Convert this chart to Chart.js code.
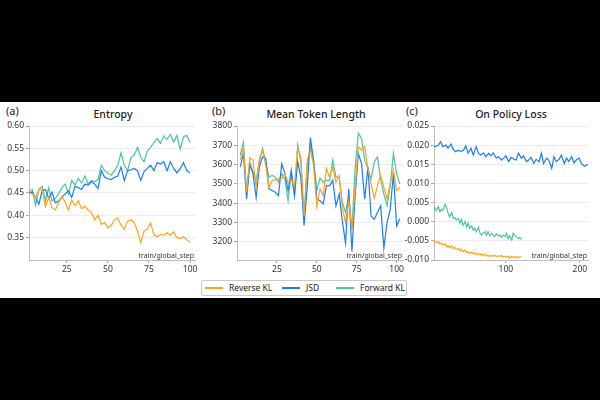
<!DOCTYPE html>
<html>
<head>
<meta charset="utf-8">
<script src="https://cdn.jsdelivr.net/npm/chart.js@4"></script>
<style>
  html, body { margin:0; padding:0; background:#000; }
  body { width:600px; height:400px; position:relative; overflow:hidden; font-family:"Noto Sans", sans-serif; }
  #band { position:absolute; left:0; top:102px; width:600px; height:196px; background:#fff; }
  canvas { position:absolute; }
  .lbl { position:absolute; font-size:11px; color:#222; line-height:14px; }
  .ttl { position:absolute; font-size:10.5px; color:#222; line-height:14px; text-align:center; width:160px; font-weight:500; }
  #legend { position:absolute; left:201px; top:280px; width:204px; height:14px; border:1px solid #c9c9c9; border-radius:2px; background:#fff; }
  .li { position:absolute; top:0; height:14px; font-size:8.5px; line-height:14px; color:#222; }
  .sw { position:absolute; top:6px; width:18px; height:2px; }
</style>
</head>
<body>
<div id="band"></div>
<div class="lbl" style="left:6px;top:104px;">(a)</div>
<div class="lbl" style="left:212px;top:104px;">(b)</div>
<div class="lbl" style="left:406px;top:104px;">(c)</div>
<div class="ttl" style="left:33px;top:107px;">Entropy</div>
<div class="ttl" style="left:236px;top:107px;">Mean Token Length</div>
<div class="ttl" style="left:431px;top:107px;">On Policy Loss</div>
<canvas id="ca" width="200" height="164" style="left:0;top:116px;"></canvas>
<canvas id="cb" width="205" height="164" style="left:205px;top:116px;"></canvas>
<canvas id="cc" width="200" height="164" style="left:400px;top:116px;"></canvas>
<div id="legend"></div>
<script>
// ---------- DATA ----------
const seriesNames = ["Reverse KL", "JSD", "Forward KL"];
const seriesColors = ["#ffa31a", "#1a7dff", "#4cc49f"];

// (a) Entropy
const entropySteps = [2,4,6,8,10,12,14,16,18,20,22,24,26,28,30,32,34,36,38,40,42,44,46,48,50,52,54,56,58,60,62,64,66,68,70,72,74,76,78,80,82,84,86,88,90,92,94,96,98,100];
const entropyReverseKL = [0.450,0.448,0.440,0.457,0.458,0.420,0.440,0.417,0.412,0.428,0.443,0.430,0.412,0.434,0.422,0.432,0.415,0.420,0.412,0.406,0.390,0.400,0.380,0.384,0.372,0.377,0.390,0.394,0.378,0.369,0.387,0.390,0.384,0.365,0.339,0.365,0.369,0.383,0.357,0.352,0.357,0.355,0.361,0.355,0.363,0.350,0.348,0.352,0.345,0.340];
const entropyJSD = [0.450,0.452,0.440,0.425,0.455,0.458,0.438,0.452,0.428,0.432,0.440,0.448,0.455,0.440,0.465,0.462,0.458,0.470,0.468,0.475,0.470,0.460,0.500,0.485,0.482,0.480,0.485,0.488,0.508,0.478,0.500,0.502,0.505,0.500,0.478,0.498,0.505,0.512,0.500,0.518,0.515,0.520,0.500,0.520,0.505,0.495,0.505,0.518,0.500,0.495];
const entropyForwardKL = [0.450,0.458,0.422,0.458,0.465,0.432,0.462,0.432,0.438,0.448,0.462,0.470,0.448,0.478,0.468,0.482,0.472,0.488,0.470,0.478,0.475,0.480,0.512,0.500,0.495,0.490,0.500,0.512,0.540,0.512,0.500,0.530,0.535,0.552,0.530,0.520,0.544,0.552,0.563,0.572,0.561,0.578,0.570,0.581,0.564,0.579,0.548,0.576,0.579,0.563];
const entropyYTicks = [0.35,0.40,0.45,0.50,0.55,0.60];
const entropyXTicks = [25,50,75,100];

// (b) Mean Token Length
const lengthSteps = [2,4,6,8,10,12,14,16,18,20,22,24,26,28,30,32,34,36,38,40,42,44,46,48,50,52,54,56,58,60,62,64,66,68,70,72,74,76,78,80,82,84,86,88,90,92,94,96,98,100,102];
const lengthReverseKL = [3623,3693,3456,3635,3623,3483,3632,3675,3597,3483,3518,3521,3526,3526,3553,3509,3518,3491,3684,3640,3333,3623,3675,3597,3383,3474,3439,3579,3535,3588,3509,3544,3377,3298,3412,3263,3483,3693,3675,3693,3579,3500,3425,3491,3544,3483,3421,3500,3570,3465,3483];
const lengthJSD = [3588,3658,3421,3597,3553,3430,3588,3640,3632,3474,3465,3456,3439,3605,3553,3465,3570,3439,3614,3535,3284,3483,3740,3614,3421,3412,3395,3491,3491,3518,3386,3447,3307,3193,3474,3149,3439,3658,3605,3421,3588,3333,3316,3351,3386,3167,3298,3369,3553,3281,3319];
const lengthForwardKL = [3649,3716,3465,3614,3561,3518,3614,3684,3614,3535,3544,3535,3509,3553,3526,3412,3553,3439,3702,3614,3307,3597,3702,3623,3465,3530,3509,3518,3518,3623,3535,3535,3404,3351,3439,3263,3579,3763,3737,3623,3579,3526,3614,3640,3526,3447,3386,3491,3658,3553,3500];
const lengthYTicks = [3200,3300,3400,3500,3600,3700,3800];
const lengthXTicks = [25,50,75,100];

// (c) On Policy Loss
const lossStepsJSD = [2,5,9,12,15,19,22,26,29,32,36,39,43,46,49,53,56,60,63,66,70,73,77,80,83,87,90,94,97,100,104,107,111,114,117,121,124,128,131,134,138,141,145,148,151,155,158,162,165,168,172,175,179,182,185,189,192,196,199,202,206,209,211];
const lossJSD = [0.0198,0.0196,0.0200,0.0209,0.0196,0.0200,0.0192,0.0203,0.0189,0.0183,0.0187,0.0183,0.0187,0.0198,0.0179,0.0192,0.0174,0.0196,0.0179,0.0174,0.0180,0.0170,0.0179,0.0172,0.0180,0.0166,0.0170,0.0161,0.0166,0.0172,0.0157,0.0168,0.0163,0.0161,0.0179,0.0166,0.0172,0.0157,0.0161,0.0168,0.0152,0.0163,0.0157,0.0179,0.0152,0.0166,0.0161,0.0139,0.0170,0.0157,0.0163,0.0174,0.0152,0.0166,0.0157,0.0170,0.0154,0.0163,0.0166,0.0152,0.0145,0.0148,0.0149];
const lossStepsKL = [2,4,6,9,11,13,15,18,20,22,24,27,29,31,33,36,38,40,42,45,47,49,51,54,56,58,60,63,65,67,69,72,74,76,78,81,83,85,87,90,92,94,96,99,101,103,105,108,110,112,114,117,119,121];
const lossReverseKL = [-0.0052,-0.0050,-0.0055,-0.0052,-0.0058,-0.0055,-0.0061,-0.0058,-0.0065,-0.0063,-0.0067,-0.0063,-0.0070,-0.0067,-0.0072,-0.0070,-0.0076,-0.0072,-0.0078,-0.0074,-0.0081,-0.0078,-0.0083,-0.0079,-0.0084,-0.0081,-0.0086,-0.0083,-0.0087,-0.0084,-0.0088,-0.0085,-0.0090,-0.0087,-0.0091,-0.0088,-0.0090,-0.0087,-0.0091,-0.0089,-0.0091,-0.0088,-0.0092,-0.0090,-0.0093,-0.0090,-0.0095,-0.0091,-0.0093,-0.0091,-0.0094,-0.0091,-0.0093,-0.0091];
const lossForwardKL = [0.0026,0.0037,0.0030,0.0039,0.0026,0.0032,0.0029,0.0045,0.0038,0.0022,0.0013,0.0024,0.0009,0.0011,0.0004,0.0009,-0.0004,0.0006,-0.0009,0.0000,-0.0013,-0.0004,-0.0017,-0.0011,-0.0022,-0.0017,-0.0026,-0.0015,-0.0029,-0.0035,-0.0030,-0.0026,-0.0035,-0.0026,-0.0037,-0.0030,-0.0035,-0.0039,-0.0032,-0.0037,-0.0035,-0.0041,-0.0035,-0.0039,-0.0030,-0.0044,-0.0037,-0.0048,-0.0030,-0.0035,-0.0039,-0.0044,-0.0041,-0.0046];
const lossYTicks = [-0.010,-0.005,0.000,0.005,0.010,0.015,0.020,0.025];
const lossXTicks = [100,200];

const xAxisLabel = "train/global_step";

// ---------- RENDER ----------
const pts = (xs, ys) => ys.map((v, i) => ({ x: xs[i], y: v }));
const ds = (idx, xs, ys) => ({
  label: seriesNames[idx], data: pts(xs, ys), borderColor: seriesColors[idx],
  borderWidth: 1.2, pointRadius: 0, tension: 0, fill: false
});

const stepLabel = {
  id: 'stepLabel',
  afterDatasetsDraw(chart) {
    const { ctx, chartArea } = chart;
    ctx.save();
    ctx.font = '7px "Noto Sans", sans-serif';
    ctx.fillStyle = '#333';
    ctx.textAlign = 'right';
    ctx.textBaseline = 'bottom';
    ctx.fillText(xAxisLabel, chartArea.right - 1, chartArea.bottom - 1);
    ctx.restore();
  }
};

function makeChart(id, datasets, opt) {
  new Chart(document.getElementById(id), {
    type: 'line',
    data: { datasets },
    plugins: [stepLabel],
    options: {
      responsive: false, animation: false, devicePixelRatio: 1,
      layout: { padding: { top: 10, right: opt.padRight, bottom: 0, left: 0 } },
      plugins: { legend: { display: false }, tooltip: { enabled: false } },
      scales: {
        x: {
          type: 'linear', min: opt.xmin, max: opt.xmax,
          afterBuildTicks: s => { s.ticks = opt.xticks.map(v => ({ value: v })); },
          afterFit: s => { s.height = 20; },
          grid: { drawOnChartArea: false, tickLength: 3, tickColor: '#aaa' },
          border: { color: '#bdbdbd' },
          ticks: { font: { size: 8.5, family: 'Noto Sans' }, color: '#333', padding: 1, maxRotation: 0 }
        },
        y: {
          min: opt.ymin, max: opt.ymax,
          afterBuildTicks: s => { s.ticks = opt.yticks.map(v => ({ value: v })); },
          afterFit: s => { s.width = opt.yw; },
          grid: { color: '#ececec', tickLength: 3, tickColor: '#aaa' },
          border: { color: '#bdbdbd' },
          ticks: { font: { size: 8.5, family: 'Noto Sans' }, color: '#333', padding: 2, callback: opt.fmt }
        }
      }
    }
  });
}

makeChart('ca', [ds(0, entropySteps, entropyReverseKL), ds(1, entropySteps, entropyJSD), ds(2, entropySteps, entropyForwardKL)],
  { xmin: 2, xmax: 103, ymin: 0.30, ymax: 0.60, xticks: entropyXTicks, yticks: entropyYTicks, yw: 29, padRight: 5, fmt: v => v.toFixed(2) });
makeChart('cb', [ds(0, lengthSteps, lengthReverseKL), ds(1, lengthSteps, lengthJSD), ds(2, lengthSteps, lengthForwardKL)],
  { xmin: 0, xmax: 104, ymin: 3105, ymax: 3800, xticks: lengthXTicks, yticks: lengthYTicks, yw: 32, padRight: 7, fmt: v => String(Math.round(v)) });
makeChart('cc', [ds(0, lossStepsKL, lossReverseKL), ds(1, lossStepsJSD, lossJSD), ds(2, lossStepsKL, lossForwardKL)],
  { xmin: 3, xmax: 211, ymin: -0.010, ymax: 0.025, xticks: lossXTicks, yticks: lossYTicks, yw: 34, padRight: 12, fmt: v => v.toFixed(3) });

// legend
const leg = document.getElementById('legend');
const legX = [[3, 27], [80, 104], [134, 158]];
seriesNames.forEach((n, i) => {
  const sw = document.createElement('div');
  sw.className = 'sw'; sw.style.left = legX[i][0] + 'px'; sw.style.background = seriesColors[i];
  leg.appendChild(sw);
  const t = document.createElement('div');
  t.className = 'li'; t.style.left = legX[i][1] + 'px'; t.textContent = n;
  leg.appendChild(t);
});
</script>
</body>
</html>
